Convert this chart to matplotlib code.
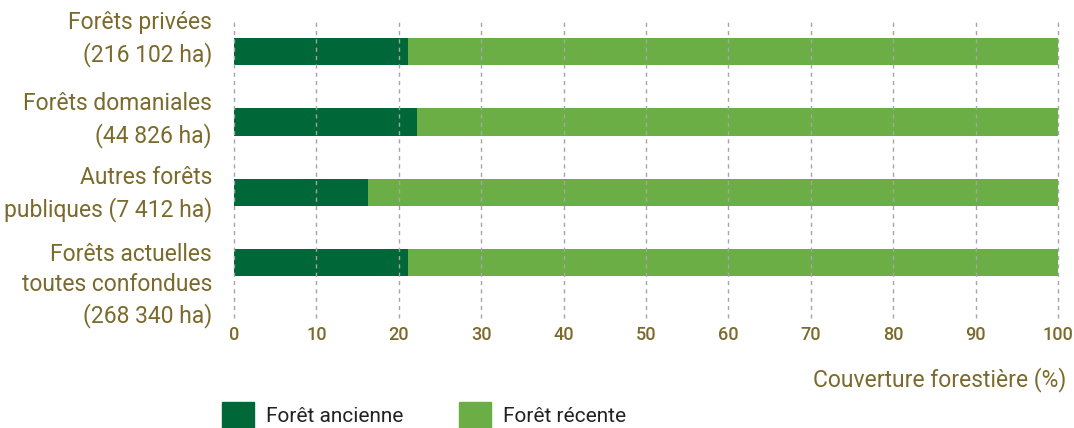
import numpy as np
import matplotlib.pyplot as plt
from matplotlib.patches import Rectangle
from matplotlib.transforms import blended_transform_factory, offset_copy

categories = ["Forêts privées\n(216 102 ha)",
              "Forêts domaniales\n(44 826 ha)",
              "Autres forêts\npubliques (7 412 ha)",
              "Forêts actuelles\ntoutes confondues\n(268 340 ha)"]
ancienne = [21.1, 22.2, 16.3, 21.1]
recente = [100 - v for v in ancienne]
xticks = np.arange(0, 101, 10)

# vertical shift of each category label relative to its bar (pixels, + = down)
label_dy = [-13, -2, 2, 23]

dark = "#006838"
light = "#6aae45"
olive = "#7b6a2c"
font = ["Roboto", "DejaVu Sans"]

fig = plt.figure(figsize=(10.74, 4.28), dpi=100)
ax = fig.add_axes([234 / 1074, 1 - 318 / 428, (1058 - 234) / 1074, 300 / 428])

y = np.arange(len(categories))
ax.barh(y, ancienne, height=0.39, color=dark, zorder=1)
ax.barh(y, recente, left=ancienne, height=0.39, color=light, zorder=1)

ax.set_xlim(0, 100)
ax.set_ylim(3.79, -0.48)
ax.set_xticks(xticks)
ax.set_xticklabels([str(t) for t in xticks], family=font, fontsize=13,
                   color=olive, fontweight="medium")
ax.set_yticks([])
ax.tick_params(length=0)
ax.tick_params(axis="x", pad=6)
for s in ax.spines.values():
    s.set_visible(False)
for t in xticks:
    ax.axvline(t, color="#a5a5a5", lw=1, ls=(0, (3, 3)), zorder=3,
               clip_on=False)

# category labels
trans = blended_transform_factory(fig.transFigure, ax.transData)
for yi, lab, dy in zip(y, categories, label_dy):
    tr = offset_copy(trans, fig=fig, x=0, y=-dy, units="dots")
    ax.text(212 / 1074, yi, lab, transform=tr, ha="right", va="center",
            multialignment="right", family=font, fontsize=16.5, color=olive,
            linespacing=1.4)

fig.text(1066 / 1074, 1 - 380 / 428, "Couverture forestière (%)", ha="right",
         va="center", family=font, fontsize=16.5, color=olive)

# legend
fig.patches.append(Rectangle((222 / 1074, 0), 32 / 1074, 26 / 428,
                             transform=fig.transFigure, color=dark))
fig.text(266 / 1074, 11 / 428, "Forêt ancienne", va="center",
         family=font, fontsize=15, color="#222222")
fig.patches.append(Rectangle((459 / 1074, 0), 32 / 1074, 26 / 428,
                             transform=fig.transFigure, color=light))
fig.text(503 / 1074, 11 / 428, "Forêt récente", va="center",
         family=font, fontsize=15, color="#222222")

fig.savefig("out.png", dpi=100)
